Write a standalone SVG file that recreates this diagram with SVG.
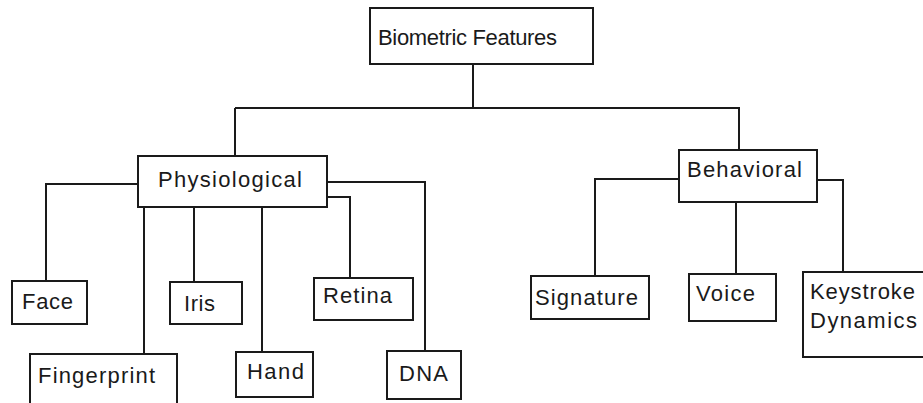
<svg xmlns="http://www.w3.org/2000/svg" width="923" height="403" viewBox="0 0 923 403">
<style>
.box{fill:#fff;stroke:#1a1a1a;stroke-width:2}
.ln{fill:none;stroke:#1a1a1a;stroke-width:2}
text{font-family:"Liberation Sans",Arial,sans-serif;font-size:22px;fill:#1a1a1a}
</style>
<rect width="923" height="403" fill="#fff"/>
<g id="connectors">
<path class="ln" d="M473 64V108M235 108H740M235 108V156M739 108V150"/>
<path class="ln" d="M138 184H46V281M144 207V354M194 207V282M262 207V352M327 197H350V278M327 182H425V351"/>
<path class="ln" d="M679 179H595V276M736 200V274M817 180H843V272"/>
</g>
<g id="biometric"><rect class="box" x="370" y="8" width="223" height="56"/><text x="378" y="45" textLength="179" lengthAdjust="spacing">Biometric Features</text></g>
<g id="physiological"><rect class="box" x="138" y="156" width="189" height="51"/><text x="158" y="187" textLength="144" lengthAdjust="spacing">Physiological</text></g>
<g id="behavioral"><rect class="box" x="679" y="150" width="138" height="52"/><text x="687" y="177" textLength="115" lengthAdjust="spacing">Behavioral</text></g>
<g id="face"><rect class="box" x="12" y="281" width="75" height="43"/><text x="22" y="309" textLength="51" lengthAdjust="spacing">Face</text></g>
<g id="fingerprint"><rect class="box" x="30" y="354" width="147" height="60"/><text x="38" y="383" textLength="117" lengthAdjust="spacing">Fingerprint</text></g>
<g id="iris"><rect class="box" x="170" y="282" width="72" height="42"/><text x="184" y="311" textLength="31" lengthAdjust="spacing">Iris</text></g>
<g id="hand"><rect class="box" x="236" y="352" width="77" height="45"/><text x="247" y="379" textLength="57" lengthAdjust="spacing">Hand</text></g>
<g id="retina"><rect class="box" x="314" y="278" width="99" height="42"/><text x="323" y="303" textLength="69" lengthAdjust="spacing">Retina</text></g>
<g id="dna"><rect class="box" x="387" y="351" width="74" height="48"/><text x="399" y="381" textLength="49" lengthAdjust="spacing">DNA</text></g>
<g id="signature"><rect class="box" x="531" y="276" width="118" height="43"/><text x="535" y="305" textLength="103" lengthAdjust="spacing">Signature</text></g>
<g id="voice"><rect class="box" x="689" y="274" width="87" height="47"/><text x="696" y="301" textLength="59" lengthAdjust="spacing">Voice</text></g>
<g id="keystroke"><rect class="box" x="803" y="272" width="130" height="85"/><text x="810" y="299" textLength="105" lengthAdjust="spacing">Keystroke</text><text x="810" y="328" textLength="107" lengthAdjust="spacing">Dynamics</text></g>
</svg>
